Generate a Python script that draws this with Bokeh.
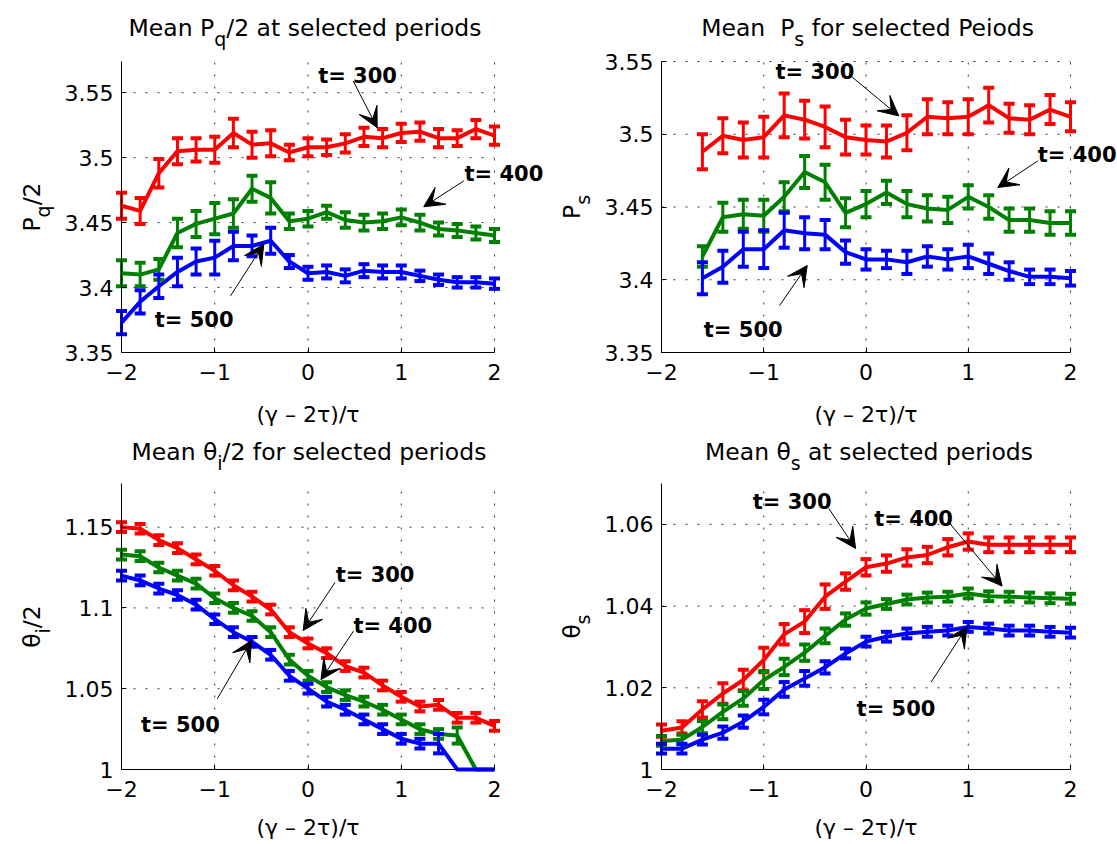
import math
from bokeh.plotting import figure
from bokeh.layouts import gridplot
from bokeh.models import (ColumnDataSource, Whisker, TeeHead, Arrow, VeeHead, Label,
                          FixedTicker, CustomJSTickFormatter, Range1d, LinearAxis)
from bokeh.embed import file_html
from bokeh.resources import INLINE

# ---------------- data ----------------
x_full = [-2.0, -1.8, -1.6, -1.4, -1.2, -1.0, -0.8, -0.6, -0.4, -0.2, 0.0,
          0.2, 0.4, 0.6, 0.8, 1.0, 1.2, 1.4, 1.6, 1.8, 2.0]
x_ps = [-1.6, -1.4, -1.2, -1.0, -0.8, -0.6, -0.4, -0.2, 0.0,
        0.2, 0.4, 0.6, 0.8, 1.0, 1.2, 1.4, 1.6, 1.8, 2.0]
series_labels = ["t= 300", "t= 400", "t= 500"]
colors = ["#FF0000", "#008000", "#0000FF"]

# Panel 1: mean P_q/2
pq_t300 = [3.463, 3.459, 3.488, 3.505, 3.506, 3.506, 3.519, 3.510, 3.511, 3.504, 3.508,
           3.508, 3.511, 3.516, 3.515, 3.519, 3.520, 3.515, 3.515, 3.522, 3.517]
pq_t400 = [3.411, 3.410, 3.414, 3.442, 3.449, 3.453, 3.457, 3.476, 3.469, 3.451, 3.453,
           3.458, 3.452, 3.450, 3.451, 3.454, 3.450, 3.445, 3.444, 3.442, 3.440]
pq_t500 = [3.373, 3.389, 3.401, 3.412, 3.420, 3.423, 3.432, 3.432, 3.436, 3.420, 3.411,
           3.412, 3.409, 3.413, 3.412, 3.412, 3.409, 3.406, 3.404, 3.404, 3.403]
pq_t300_err = [0.010, 0.010, 0.011, 0.010, 0.009, 0.010, 0.011, 0.010, 0.010, 0.006, 0.007,
               0.006, 0.007, 0.007, 0.007, 0.007, 0.007, 0.007, 0.006, 0.007, 0.007]
pq_t400_err = [0.010, 0.009, 0.008, 0.011, 0.010, 0.012, 0.011, 0.010, 0.012, 0.006, 0.006,
               0.005, 0.006, 0.006, 0.006, 0.006, 0.006, 0.005, 0.005, 0.005, 0.005]
pq_t500_err = [0.009, 0.009, 0.009, 0.011, 0.010, 0.013, 0.011, 0.008, 0.010, 0.005, 0.005,
               0.005, 0.005, 0.005, 0.005, 0.005, 0.004, 0.004, 0.004, 0.004, 0.004]

# Panel 2: mean P_s
ps_t300 = [3.488, 3.499, 3.496, 3.498, 3.513, 3.510, 3.505, 3.498, 3.496, 3.495,
           3.501, 3.512, 3.511, 3.512, 3.520, 3.511, 3.510, 3.517, 3.512]
ps_t400 = [3.416, 3.443, 3.445, 3.444, 3.457, 3.474, 3.467, 3.446, 3.452, 3.460,
           3.452, 3.449, 3.448, 3.457, 3.450, 3.441, 3.441, 3.439, 3.439]
ps_t500 = [3.401, 3.409, 3.421, 3.421, 3.434, 3.432, 3.431, 3.419, 3.414, 3.414,
           3.412, 3.416, 3.414, 3.416, 3.411, 3.406, 3.402, 3.402, 3.401]
ps_t300_err = [0.012, 0.012, 0.012, 0.014, 0.015, 0.013, 0.014, 0.012, 0.010, 0.011,
               0.012, 0.012, 0.011, 0.012, 0.012, 0.010, 0.010, 0.010, 0.010]
ps_t400_err = [0.007, 0.010, 0.010, 0.011, 0.010, 0.011, 0.012, 0.010, 0.009, 0.008,
               0.009, 0.009, 0.009, 0.008, 0.008, 0.008, 0.008, 0.008, 0.008]
ps_t500_err = [0.011, 0.011, 0.012, 0.013, 0.012, 0.011, 0.010, 0.008, 0.007, 0.006,
               0.008, 0.007, 0.007, 0.008, 0.007, 0.006, 0.005, 0.005, 0.005]

# Panel 3: mean theta_i/2
ti_t300 = [1.150, 1.149, 1.142, 1.137, 1.130, 1.123, 1.114, 1.107, 1.099, 1.085, 1.078,
           1.072, 1.064, 1.060, 1.052, 1.045, 1.039, 1.040, 1.032, 1.032, 1.027]
ti_t400 = [1.133, 1.132, 1.125, 1.120, 1.115, 1.106, 1.100, 1.095, 1.085, 1.068, 1.058,
           1.051, 1.046, 1.042, 1.037, 1.031, 1.025, 1.022, 1.021, 1.000, 1.000]
ti_t500 = [1.120, 1.117, 1.112, 1.108, 1.102, 1.093, 1.085, 1.079, 1.071, 1.058, 1.050,
           1.042, 1.037, 1.031, 1.025, 1.019, 1.016, 1.016, 1.000, 1.000, 1.000]
ti_t300_err = [0.003, 0.003, 0.003, 0.003, 0.003, 0.003, 0.003, 0.003, 0.003, 0.003, 0.003,
               0.003, 0.003, 0.003, 0.003, 0.003, 0.003, 0.003, 0.003, 0.003, 0.003]
ti_t400_err = [0.003, 0.003, 0.003, 0.003, 0.003, 0.003, 0.003, 0.003, 0.003, 0.003, 0.003,
               0.003, 0.003, 0.003, 0.003, 0.003, 0.003, 0.003, 0.005, 0.0, 0.0]
ti_t500_err = [0.003, 0.003, 0.003, 0.003, 0.003, 0.003, 0.003, 0.003, 0.003, 0.003, 0.003,
               0.003, 0.003, 0.003, 0.003, 0.003, 0.003, 0.006, 0.0, 0.0, 0.0]

# Panel 4: mean theta_s
ts_t300 = [1.0095, 1.0103, 1.0147, 1.0186, 1.0219, 1.0268, 1.0331, 1.0362, 1.0423, 1.0460, 1.0495,
           1.0504, 1.0519, 1.0525, 1.0544, 1.0558, 1.0550, 1.0550, 1.0550, 1.0550, 1.0550]
ts_t400 = [1.0070, 1.0073, 1.0104, 1.0141, 1.0174, 1.0219, 1.0251, 1.0286, 1.0327, 1.0367, 1.0394,
           1.0405, 1.0416, 1.0421, 1.0423, 1.0431, 1.0424, 1.0423, 1.0421, 1.0419, 1.0418]
ts_t500 = [1.0051, 1.0051, 1.0073, 1.0090, 1.0117, 1.0153, 1.0196, 1.0223, 1.0250, 1.0284, 1.0313,
           1.0325, 1.0333, 1.0337, 1.0340, 1.0349, 1.0345, 1.0340, 1.0340, 1.0337, 1.0335]
ts_t300_err = [0.0015, 0.0015, 0.0020, 0.0025, 0.0025, 0.0030, 0.0025, 0.0028, 0.0030, 0.0020, 0.0020,
               0.0020, 0.0020, 0.0020, 0.0020, 0.0020, 0.0018, 0.0018, 0.0018, 0.0018, 0.0018]
ts_t400_err = [0.0012, 0.0012, 0.0015, 0.0018, 0.0018, 0.0022, 0.0020, 0.0020, 0.0018, 0.0015, 0.0015,
               0.0012, 0.0012, 0.0012, 0.0012, 0.0012, 0.0012, 0.0012, 0.0012, 0.0012, 0.0012]
ts_t500_err = [0.0012, 0.0012, 0.0012, 0.0015, 0.0015, 0.0018, 0.0018, 0.0018, 0.0015, 0.0012, 0.0012,
               0.0012, 0.0012, 0.0012, 0.0012, 0.0012, 0.0012, 0.0012, 0.0012, 0.0012, 0.0012]

# axis limits and tick labels
x_lim = (-2.0, 2.0)
x_ticks = [-2, -1, 0, 1, 2]
pq_ylim = (3.35, 3.574)
ps_ylim = (3.35, 3.55)
ti_ylim = (1.0, 1.177)
ts_ylim = (1.0, 1.07)
pq_yticks = [3.35, 3.4, 3.45, 3.5, 3.55]
ps_yticks = [3.35, 3.4, 3.45, 3.5, 3.55]
ti_yticks = [1.0, 1.05, 1.1, 1.15]
ts_yticks = [1.0, 1.02, 1.04, 1.06]

# annotation positions (data coords): text left/baseline, arrow tail -> head
pq_text_x = [0.109, 1.678, -1.643]
pq_text_y = [3.5628, 3.4875, 3.3749]
pq_arrow = [(0.485, 3.559, 0.742, 3.523), (1.671, 3.4821, 1.241, 3.4622), (-0.831, 3.3936, -0.474, 3.4334)]
ps_text_x = [-0.885, 1.680, -1.586]
ps_text_y = [3.5431, 3.4857, 3.3654]
ps_arrow = [(-0.142, 3.5397, 0.321, 3.5126), (1.680, 3.4817, 1.289, 3.4634), (-0.846, 3.3822, -0.575, 3.4098)]
ti_text_x = [0.297, 0.487, -1.791]
ti_text_y = [1.1206, 1.0891, 1.0273]
ti_arrow = [(0.290, 1.1158, -0.052, 1.0860), (0.487, 1.0856, 0.139, 1.0556), (-0.973, 1.0438, -0.607, 1.0798)]
ts_text_x = [-1.107, 0.080, -0.092]
ts_text_y = [1.0655, 1.0614, 1.0149]
ts_arrow = [(-0.364, 1.0639, -0.102, 1.0541), (0.807, 1.0606, 1.331, 1.0449), (0.637, 1.0214, 0.987, 1.0349)]

xlabel_text = "(γ – 2τ)/τ"

# ---------------- styling helpers ----------------
FONT = "DejaVu Sans"
W = {' ': 318, '(': 390, ')': 390, '/': 337, '.': 318, '=': 838, 'M': 863, 'P': 603,
     'a': 613, 'c': 550, 'd': 635, 'e': 615, 'f': 352, 'i': 278, 'l': 278, 'n': 634,
     'o': 612, 'p': 635, 'q': 635, 'r': 411, 's': 521, 't': 392, 'θ': 602, 'γ': 592,
     'τ': 560, '–': 500}
for _d in "0123456789":
    W[_d] = 636


def tw(s, size):
    return sum(W.get(c, 600) for c in s) / 1000.0 * size


TITLE_SIZE = 23.5
SUB_SIZE = 19
DROP = 11


def rich_text(p, parts, x, y, x_off, y_off, rotated=False):
    widths = [tw(t, SUB_SIZE if s else TITLE_SIZE) for t, s in parts]
    pos = -sum(widths) / 2.0
    for (t, s), w in zip(parts, widths):
        size = SUB_SIZE if s else TITLE_SIZE
        lead = tw(t[:len(t) - len(t.lstrip())], size)
        if rotated:
            xo = x_off + (DROP if s else 0)
            yo = y_off + pos + lead
            ang = math.pi / 2
        else:
            xo = x_off + pos + lead
            yo = y_off - (DROP if s else 0)
            ang = 0.0
        p.add_layout(Label(x=x, y=y, x_offset=xo, y_offset=yo, text=t.strip(), angle=ang,
                           text_font=FONT, text_font_size=f"{size}px", text_align="left",
                           text_baseline="alphabetic", text_color="black"))
        pos += w


def make_panel(xs, ys_list, err_list, ylim, yticks, title_parts, ylabel_parts,
               text_x, text_y, arrows, geom, title_dx, title_gap, xlab_gap):
    # geom: left border, frame width, right border, top border, frame height, bottom border
    bl, fw, br, bt, fh, bb = geom
    x0, x1 = x_lim
    y0, y1 = ylim
    sx = fw / (x1 - x0)
    sy = fh / (y1 - y0)
    p = figure(width=bl + fw + br, height=bt + fh + bb,
               x_range=Range1d(x0 - bl / sx, x1 + br / sx),
               y_range=Range1d(y0 - bb / sy, y1 + bt / sy),
               x_axis_location=None, y_axis_location=None,
               output_backend="svg", toolbar_location=None,
               min_border_left=0, min_border_right=0,
               min_border_top=0, min_border_bottom=0)
    p.outline_line_color = None
    p.background_fill_color = "white"
    p.border_fill_color = "white"
    p.grid.visible = False

    # dotted grid lines at the major ticks, limited to the axes box
    gx = [t for t in x_ticks if t != x0]
    gy = [t for t in yticks if t != y0]
    p.segment(x0=gx, y0=[y0] * len(gx), x1=gx, y1=[y1] * len(gx),
              line_color="#333333", line_dash="2 10", line_width=1)
    p.segment(x0=[x0] * len(gy), y0=gy, x1=[x1] * len(gy), y1=gy,
              line_color="#333333", line_dash="2 10", line_width=1)

    xaxis = LinearAxis(fixed_location=y0, bounds=(x0, x1), ticker=FixedTicker(ticks=x_ticks),
                       formatter=CustomJSTickFormatter(
                           code="return tick < 0 ? '\u2212' + (-tick) : String(tick);"))
    yaxis = LinearAxis(fixed_location=x0, bounds=(y0, y1), ticker=FixedTicker(ticks=yticks),
                       formatter=CustomJSTickFormatter(
                           code="return String(Number(tick.toFixed(3)));"))
    for ax in (xaxis, yaxis):
        ax.axis_line_color = "black"
        ax.axis_line_width = 1
        ax.major_tick_in = 5
        ax.major_tick_out = 0
        ax.major_tick_line_color = "black"
        ax.minor_tick_line_color = None
        ax.major_label_text_font = FONT
        ax.major_label_text_font_size = "22px"
        ax.major_label_text_color = "black"
    xaxis.major_label_standoff = 11
    yaxis.major_label_standoff = 8
    p.add_layout(xaxis, "below")
    p.add_layout(yaxis, "left")

    for ys, es, c in zip(ys_list, err_list, colors):
        src = ColumnDataSource(dict(x=xs, y=ys))
        ex = [x for x, e in zip(xs, es) if e > 0]
        lo = [y - e for y, e in zip(ys, es) if e > 0]
        hi = [y + e for y, e in zip(ys, es) if e > 0]
        esrc = ColumnDataSource(dict(x=ex, lo=lo, hi=hi))
        p.line(x="x", y="y", source=src, line_color=c, line_width=4, line_join="round")
        p.add_layout(Whisker(source=esrc, base="x", lower="lo", upper="hi",
                             line_color=c, line_width=3, level="glyph",
                             upper_head=TeeHead(size=11, line_color=c, line_width=4),
                             lower_head=TeeHead(size=11, line_color=c, line_width=4)))

    for lab, tx, ty, (ax0, ay0, ax1, ay1) in zip(series_labels, text_x, text_y, arrows):
        p.add_layout(Arrow(x_start=ax0, y_start=ay0, x_end=ax1, y_end=ay1,
                           line_color="black", line_width=1,
                           end=VeeHead(size=20, fill_color="black", line_color="black",
                                       line_width=1)))
        p.add_layout(Label(x=tx, y=ty, text=lab, text_font=FONT, text_font_style="bold",
                           text_font_size="21px", text_align="left",
                           text_baseline="alphabetic", text_color="black"))

    xc = (x0 + x1) / 2.0
    rich_text(p, title_parts, xc, y1, title_dx, title_gap)
    rich_text(p, ylabel_parts, x0, (y0 + y1) / 2.0, -90, 0, rotated=True)
    p.add_layout(Label(x=xc, y=y0, y_offset=-xlab_gap, text=xlabel_text, text_font=FONT,
                       text_font_size="22px", text_align="center",
                       text_baseline="alphabetic", text_color="black"))
    return p


# figure cells: column widths 550 | 567, row heights 430 | 414
geom_tl = (121, 373, 56, 61, 291, 78)
geom_tr = (111, 409, 47, 61, 291, 78)
geom_bl = (121, 373, 56, 53, 286, 75)
geom_br = (111, 409, 47, 53, 286, 75)

p1 = make_panel(x_full, [pq_t300, pq_t400, pq_t500], [pq_t300_err, pq_t400_err, pq_t500_err],
                pq_ylim, pq_yticks,
                [("Mean P", 0), ("q", 1), ("/2 at selected periods", 0)],
                [("P", 0), ("q", 1), ("/2", 0)],
                pq_text_x, pq_text_y, pq_arrow, geom_tl, -3, 34, 62)
p2 = make_panel(x_ps, [ps_t300, ps_t400, ps_t500], [ps_t300_err, ps_t400_err, ps_t500_err],
                ps_ylim, ps_yticks,
                [("Mean", 0), ("  P", 0), ("s", 1), (" for selected Peiods", 0)],
                [("P", 0), ("s", 1)],
                ps_text_x, ps_text_y, ps_arrow, geom_tr, 2, 34, 62)
p3 = make_panel(x_full, [ti_t300, ti_t400, ti_t500], [ti_t300_err, ti_t400_err, ti_t500_err],
                ti_ylim, ti_yticks,
                [("Mean θ", 0), ("i", 1), ("/2 for selected periods", 0)],
                [("θ", 0), ("i", 1), ("/2", 0)],
                ti_text_x, ti_text_y, ti_arrow, geom_bl, 1, 32, 58)
p4 = make_panel(x_full, [ts_t300, ts_t400, ts_t500], [ts_t300_err, ts_t400_err, ts_t500_err],
                ts_ylim, ts_yticks,
                [("Mean θ", 0), ("s", 1), (" at selected periods", 0)],
                [("θ", 0), ("s", 1)],
                ts_text_x, ts_text_y, ts_arrow, geom_br, 3, 32, 58)

grid = gridplot([[p1, p2], [p3, p4]], toolbar_location=None)

open("out.html", "w").write(file_html(grid, INLINE))
